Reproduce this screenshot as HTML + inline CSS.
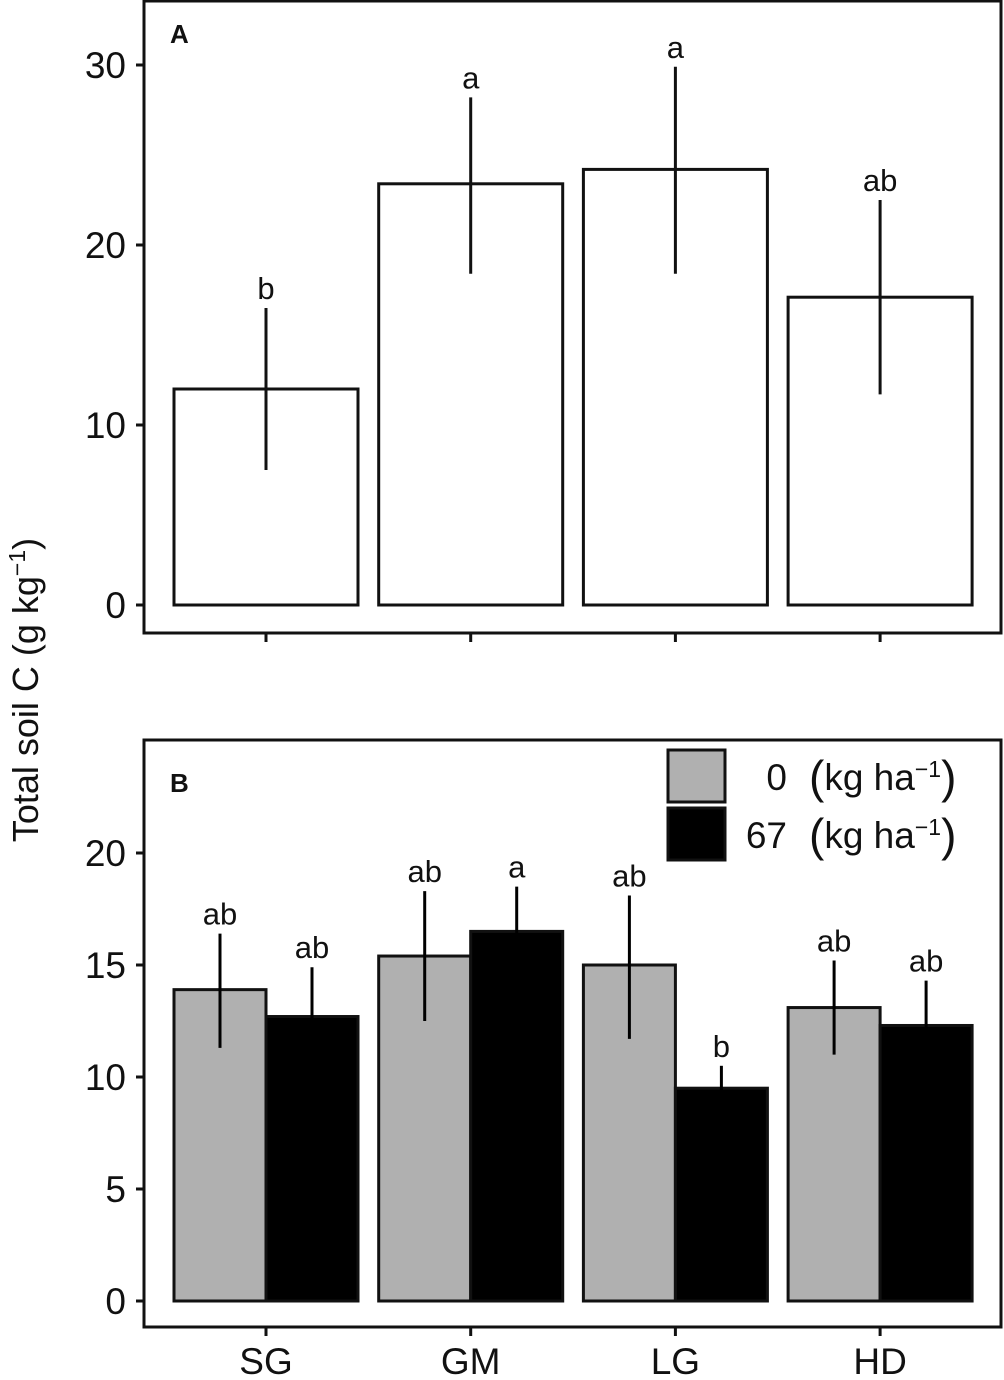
<!DOCTYPE html>
<html><head><meta charset="utf-8"><style>
body{margin:0;background:#fff}
svg text{font-family:"Liberation Sans",Arial,sans-serif;fill:#111}
</style></head><body>
<svg id="c" width="1004" height="1375" viewBox="0 0 1004 1375">
<text transform="translate(38,690) rotate(-90)" text-anchor="middle" font-size="36">Total soil C (g kg<tspan baseline-shift="super" font-size="23">−1</tspan>)</text>
<g id="pa"></g>
<g id="pb"></g>
</svg>
<script>
const categories=["SG","GM","LG","HD"];
const aVals=[12.0,23.4,24.2,17.1];
const aLo=[7.5,18.4,18.4,11.7];
const aHi=[16.5,28.2,29.9,22.5];
const aLetters=["b","a","a","ab"];
const aTicks=[0,10,20,30];
const b0Vals=[13.9,15.4,15.0,13.1];
const b0Lo=[11.3,12.5,11.7,11.0];
const b0Hi=[16.4,18.3,18.1,15.2];
const b0Letters=["ab","ab","ab","ab"];
const b67Vals=[12.7,16.5,9.5,12.3];
const b67Lo=[10.5,14.5,8.5,10.3];
const b67Hi=[14.9,18.5,10.5,14.3];
const b67Letters=["ab","a","b","ab"];
const bTicks=[0,5,10,15,20];
const NS="http://www.w3.org/2000/svg";
function mk(p,t,a){const e=document.createElementNS(NS,t);for(const k in a)e.setAttribute(k,a[k]);p.appendChild(e);return e;}
const xc=i=>266+i*204.7;
const yA=v=>605-v*18;
const yB=v=>1301-v*22.4;
const pa=document.getElementById('pa'),pb=document.getElementById('pb');
let f=mk(pa,'rect',{x:144,y:1,width:857,height:632,fill:'none',stroke:'#111','stroke-width':3});


let t=mk(pa,'text',{x:170,y:43,'font-size':26,'font-weight':'bold'});t.textContent='A';


aTicks.forEach(v=>{
 let l=mk(pa,'line',{x1:136,x2:144,y1:yA(v),y2:yA(v),stroke:'#111','stroke-width':3});
 
 
 let tx=mk(pa,'text',{x:126,y:yA(v)+13,'font-size':37,'text-anchor':'end'});tx.textContent=v;
 
 
});
categories.forEach((c,i)=>{
 let l=mk(pa,'line',{x1:xc(i),x2:xc(i),y1:633,y2:642,stroke:'#111','stroke-width':3});
 
 
 let r=mk(pa,'rect',{x:xc(i)-92,y:yA(aVals[i]),width:184,height:yA(0)-yA(aVals[i]),fill:'#fff',stroke:'#111','stroke-width':3});
 
 
 let e=mk(pa,'line',{x1:xc(i),x2:xc(i),y1:yA(aLo[i]),y2:yA(aHi[i]),stroke:'#111','stroke-width':3});
 
 
 let s=mk(pa,'text',{x:xc(i),y:yA(aHi[i])-9,'font-size':31,'text-anchor':'middle'});s.textContent=aLetters[i];
 
 
});
f=mk(pb,'rect',{x:144,y:740,width:857,height:587,fill:'none',stroke:'#111','stroke-width':3});


t=mk(pb,'text',{x:170,y:792,'font-size':26,'font-weight':'bold'});t.textContent='B';


bTicks.forEach(v=>{
 let l=mk(pb,'line',{x1:136,x2:144,y1:yB(v),y2:yB(v),stroke:'#111','stroke-width':3});
 
 
 let tx=mk(pb,'text',{x:126,y:yB(v)+13,'font-size':37,'text-anchor':'end'});tx.textContent=v;
 
 
});
categories.forEach((c,i)=>{
 let l=mk(pb,'line',{x1:xc(i),x2:xc(i),y1:1327,y2:1336,stroke:'#111','stroke-width':3});
 
 
 let xl=mk(pb,'text',{x:xc(i),y:1374,'font-size':37,'text-anchor':'middle'});xl.textContent=c;
 
 
 [[b0Vals,b0Lo,b0Hi,b0Letters,'#b0b0b0',-92,'0'],[b67Vals,b67Lo,b67Hi,b67Letters,'#000',0,'67']].forEach(s=>{
  const x0=xc(i)+s[5];
  let r=mk(pb,'rect',{x:x0,y:yB(s[0][i]),width:92,height:yB(0)-yB(s[0][i]),fill:s[4],stroke:'#111','stroke-width':3});
  
  
  let e=mk(pb,'line',{x1:x0+46,x2:x0+46,y1:yB(s[1][i]),y2:yB(s[2][i]),stroke:'#000','stroke-width':3});
  
  
  let lt=mk(pb,'text',{x:x0+46,y:yB(s[2][i])-9,'font-size':31,'text-anchor':'middle'});lt.textContent=s[3][i];
  
  
 });
});
[['#b0b0b0','0',750],['#000','67',808]].forEach(g=>{
 let r=mk(pb,'rect',{x:668,y:g[2],width:57,height:52,fill:g[0],stroke:'#111','stroke-width':3});
 
 
 let tx=mk(pb,'text',{x:787,y:g[2]+40,'font-size':37,'text-anchor':'end'});tx.textContent=g[1];
 
 
 let u=mk(pb,'text',{x:809,y:g[2]+40,'font-size':37});
 u.innerHTML='<tspan font-size="46" dy="3">(</tspan><tspan dy="-3">kg ha</tspan><tspan baseline-shift="super" font-size="23">−1</tspan><tspan font-size="46" dy="3">)</tspan>';
 
 
});
</script>
</body></html>
